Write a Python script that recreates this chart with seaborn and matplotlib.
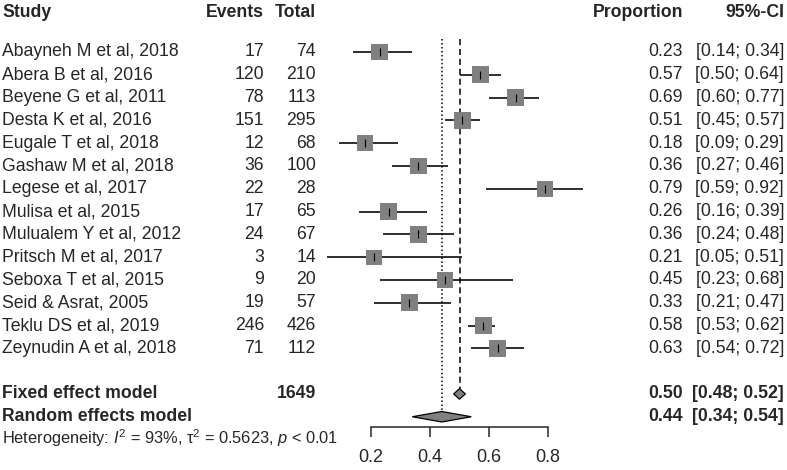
import numpy as np
import pandas as pd
import matplotlib
matplotlib.use("Agg")
import matplotlib.pyplot as plt
import matplotlib.transforms as mtransforms
import seaborn as sns

# --- DATA ---
studies = ["Abayneh M et al, 2018", "Abera B et al, 2016", "Beyene G et al, 2011",
           "Desta K et al, 2016", "Eugale T et al, 2018", "Gashaw M et al, 2018",
           "Legese et al, 2017", "Mulisa et al, 2015", "Mulualem Y et al, 2012",
           "Pritsch M et al, 2017", "Seboxa T et al, 2015", "Seid & Asrat, 2005",
           "Teklu DS et al, 2019", "Zeynudin A et al, 2018"]
events = [17, 120, 78, 151, 12, 36, 22, 17, 24, 3, 9, 19, 246, 71]
totals = [74, 210, 113, 295, 68, 100, 28, 65, 67, 14, 20, 57, 426, 112]
prop = [0.23, 0.57, 0.69, 0.51, 0.18, 0.36, 0.79, 0.26, 0.36, 0.21, 0.45, 0.33, 0.58, 0.63]
ci_lo = [0.14, 0.50, 0.60, 0.45, 0.09, 0.27, 0.59, 0.16, 0.24, 0.05, 0.23, 0.21, 0.53, 0.54]
ci_hi = [0.34, 0.64, 0.77, 0.57, 0.29, 0.46, 0.92, 0.39, 0.48, 0.51, 0.68, 0.47, 0.62, 0.72]
weights = [7.3, 7.5, 7.4, 7.5, 7.2, 7.4, 6.6, 7.2, 7.2, 6.0, 6.5, 7.1, 7.6, 7.4]  # random-effects %

model_names = ["Fixed effect model", "Random effects model"]
model_total = 1649
model_est = [0.50, 0.44]
model_lo = [0.48, 0.34]
model_hi = [0.52, 0.54]
heterogeneity = r"Heterogeneity: $I^2$ = 93%, τ$^2$ = 0.5623, $p$ < 0.01"
xticks = [0.2, 0.4, 0.6, 0.8]

# --- STYLE ---
sns.set_style("white")
plt.rcParams["font.family"] = ["Liberation Sans", "DejaVu Sans"]
plt.rcParams["mathtext.fontset"] = "custom"
plt.rcParams["mathtext.rm"] = "Liberation Sans"
plt.rcParams["mathtext.it"] = "Liberation Sans:italic"
fs = 12.7
grey = "#808080"

W, H = 787, 470
fig = plt.figure(figsize=(W / 100, H / 100), dpi=100)
ax = fig.add_axes([312 / W, 43 / H, 295 / W, 427 / H])

df = pd.DataFrame({"study": studies, "prop": prop, "lo": ci_lo, "hi": ci_hi, "w": weights})
df["row"] = np.arange(len(df))
n = len(df)
row_fixed, row_random, row_het = n + 1, n + 2, n + 2.93
row_header = -1.75

# CI lines
ax.hlines(df["row"], df["lo"], df["hi"], color="black", lw=1.15, zorder=2)
# weight boxes (side in pt)
side_pt = 17 * 0.72 * np.sqrt(df["w"] / 7.5)
sns.scatterplot(data=df, x="prop", y="row", marker="s", s=side_pt ** 2, color=grey,
                edgecolor=grey, linewidth=0, zorder=3, ax=ax, legend=False)
# point estimate ticks
sns.scatterplot(data=df, x="prop", y="row", marker="|", s=36, color="black",
                linewidth=0.8, zorder=4, ax=ax, legend=False)

# reference lines
ax.vlines(model_est[1], -0.57, row_random, color="black", lw=1.1, linestyle=(0, (1, 1.6)), zorder=1)
ax.vlines(model_est[0], -0.57, row_fixed, color="black", lw=1.1, linestyle=(0, (4, 2.5)), zorder=1)

# diamonds
for r, est, lo, hi in zip([row_fixed, row_random], model_est, model_lo, model_hi):
    h = 0.23
    ax.fill([lo, est, hi, est], [r, r - h, r, r + h], facecolor=grey, edgecolor="black",
            lw=0.9, zorder=5)

ax.set_xlim(0, 1)
ax.set_ylim(16.45, -2.28)
sns.despine(ax=ax, left=True)
ax.spines["bottom"].set_bounds(xticks[0], xticks[-1])
ax.spines["bottom"].set_linewidth(1.1)
ax.set_xticks(xticks)
ax.set_xticklabels([f"{t:.1f}" for t in xticks], fontsize=13)
ax.tick_params(axis="x", direction="out", length=7.2, width=1.1, pad=8.5, bottom=True)
ax.set_yticks([])
ax.set_xlabel("")
ax.set_ylabel("")

# text columns
tr = mtransforms.blended_transform_factory(fig.transFigure, ax.transData)
x_study, x_ev, x_tot, x_prop, x_ci = 2 / W, 264 / W, 316 / W, 683 / W, 784 / W
kw = dict(transform=tr, va="center", fontsize=fs, clip_on=False)

ax.text(x_study, row_header, "Study", ha="left", weight="bold", **kw)
ax.text(x_ev, row_header, "Events", ha="right", weight="bold", **kw)
ax.text(x_tot, row_header, "Total", ha="right", weight="bold", **kw)
ax.text(x_prop, row_header, "Proportion", ha="right", weight="bold", **kw)
ax.text(x_ci, row_header, "95%-CI", ha="right", weight="bold", **kw)

for i in range(n):
    ax.text(x_study, i, studies[i], ha="left", **kw)
    ax.text(x_ev, i, str(events[i]), ha="right", **kw)
    ax.text(x_tot, i, str(totals[i]), ha="right", **kw)
    ax.text(x_prop, i, f"{prop[i]:.2f}", ha="right", **kw)
    ax.text(x_ci, i, f"[{ci_lo[i]:.2f}; {ci_hi[i]:.2f}]", ha="right", **kw)

for r, name, est, lo, hi in zip([row_fixed, row_random], model_names, model_est, model_lo, model_hi):
    ax.text(x_study, r, name, ha="left", weight="bold", **kw)
    ax.text(x_prop, r, f"{est:.2f}", ha="right", weight="bold", **kw)
    ax.text(x_ci, r, f"[{lo:.2f}; {hi:.2f}]", ha="right", weight="bold", **kw)
ax.text(x_tot, row_fixed, str(model_total), ha="right", weight="bold", **kw)

ax.text(x_study, row_het, heterogeneity, ha="left", transform=tr, va="center",
        fontsize=11.8, clip_on=False)

fig.savefig("out.png", dpi=100)
